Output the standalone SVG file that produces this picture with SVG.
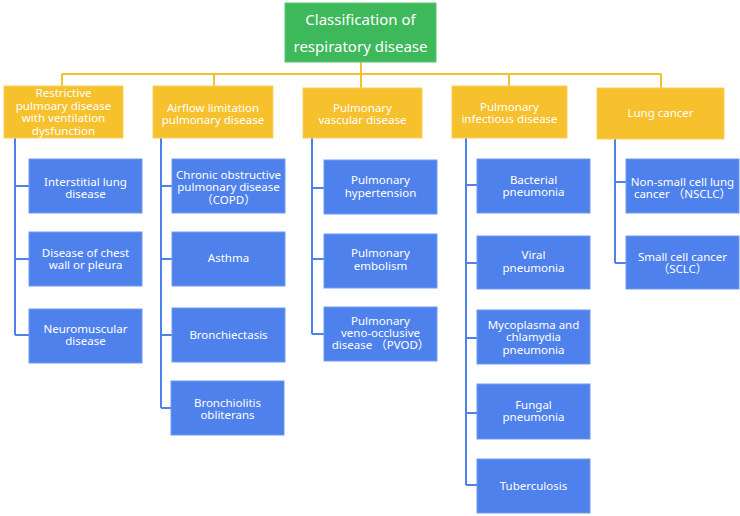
<svg xmlns="http://www.w3.org/2000/svg" width="740" height="516" viewBox="0 0 740 516">
<style>
.root{fill:#3DB85B;stroke:#5CC576;stroke-width:1}
.cat{fill:#F6C12D;stroke:#F8D060;stroke-width:1}
.leaf{fill:#4F81EC;stroke:#7099F0;stroke-width:1}
text{font-family:"Noto Sans","Noto Sans CJK SC",sans-serif;fill:#fff;text-anchor:middle;font-size:11.5px}
.rt{font-size:15px}
.yl{fill:none;stroke:#F5C02E;stroke-width:2}
.bl{fill:none;stroke:#4F81EC;stroke-width:2}
</style>
<rect width="740" height="516" fill="#fff"/>
<g id="connectors">
<path class="yl" d="M361 62V74M62 74H661M62 74V86M214 74V86M361 74V88M509 74V86M661 74V88"/>
<path class="bl" d="M15 138V335M15 186H29M15 259H29M15 335H29"/>
<path class="bl" d="M161 138V408M161 186H172M161 259H172M161 335H172M161 408H171"/>
<path class="bl" d="M312 138V334M312 188H324M312 259H324M312 334H324"/>
<path class="bl" d="M466 138V485M466 185H477M466 263H477M466 338H477M466 413H477M466 485H477"/>
<path class="bl" d="M615 139V263M615 182H626M615 263H626"/>
</g>
<g id="root"><rect class="root" x="285" y="3" width="151" height="59"/><text class="rt" x="360.5" y="25">Classification of</text><text class="rt" x="360.5" y="52">respiratory disease</text></g>
<g id="cat1"><rect class="cat" x="4" y="86" width="119" height="52"/><text x="63.5" y="97">Restrictive</text><text x="63.5" y="110">pulmoary disease</text><text x="63.5" y="122">with ventilation</text><text x="63.5" y="135">dysfunction</text></g>
<g id="cat2"><rect class="cat" x="153" y="86" width="120" height="52"/><text x="213" y="112">Airflow limitation</text><text x="213" y="124">pulmonary disease</text></g>
<g id="cat3"><rect class="cat" x="303" y="88" width="119" height="50"/><text x="362.5" y="112">Pulmonary</text><text x="362.5" y="124">vascular disease</text></g>
<g id="cat4"><rect class="cat" x="452" y="86" width="115" height="52"/><text x="509.5" y="111">Pulmonary</text><text x="509.5" y="123">infectious disease</text></g>
<g id="cat5"><rect class="cat" x="597" y="88" width="127" height="51"/><text x="660.5" y="117">Lung cancer</text></g>
<g id="l1a"><rect class="leaf" x="29" y="159" width="113" height="54"/><text x="85.5" y="186">Interstitial lung</text><text x="85.5" y="198">disease</text></g>
<g id="l1b"><rect class="leaf" x="29" y="232" width="113" height="54"/><text x="85.5" y="257">Disease of chest</text><text x="85.5" y="269">wall or pleura</text></g>
<g id="l1c"><rect class="leaf" x="29" y="309" width="113" height="54"/><text x="85.5" y="333">Neuromuscular</text><text x="85.5" y="345">disease</text></g>
<g id="l2a"><rect class="leaf" x="172" y="159" width="113" height="54"/><text x="228.5" y="179">Chronic obstructive</text><text x="228.5" y="191">pulmonary disease</text><text x="228.5" y="204">（COPD）</text></g>
<g id="l2b"><rect class="leaf" x="172" y="232" width="113" height="54"/><text x="228.5" y="262">Asthma</text></g>
<g id="l2c"><rect class="leaf" x="172" y="308" width="113" height="54"/><text x="228.5" y="339">Bronchiectasis</text></g>
<g id="l2d"><rect class="leaf" x="171" y="381" width="113" height="54"/><text x="227.5" y="407">Bronchiolitis</text><text x="227.5" y="419">obliterans</text></g>
<g id="l3a"><rect class="leaf" x="324" y="160" width="113" height="54"/><text x="380.5" y="184">Pulmonary</text><text x="380.5" y="197">hypertension</text></g>
<g id="l3b"><rect class="leaf" x="324" y="234" width="113" height="54"/><text x="380.5" y="257">Pulmonary</text><text x="380.5" y="270">embolism</text></g>
<g id="l3c"><rect class="leaf" x="324" y="307" width="113" height="54"/><text x="380.5" y="325">Pulmonary</text><text x="380.5" y="337">veno-occlusive</text><text x="380.5" y="349">disease （PVOD）</text></g>
<g id="l4a"><rect class="leaf" x="477" y="159" width="113" height="54"/><text x="533.5" y="184">Bacterial</text><text x="533.5" y="196">pneumonia</text></g>
<g id="l4b"><rect class="leaf" x="477" y="236" width="113" height="53"/><text x="533.5" y="259">Viral</text><text x="533.5" y="272">pneumonia</text></g>
<g id="l4c"><rect class="leaf" x="477" y="310" width="113" height="54"/><text x="533.5" y="329">Mycoplasma and</text><text x="533.5" y="341">chlamydia</text><text x="533.5" y="354">pneumonia</text></g>
<g id="l4d"><rect class="leaf" x="477" y="384" width="113" height="55"/><text x="533.5" y="409">Fungal</text><text x="533.5" y="421">pneumonia</text></g>
<g id="l4e"><rect class="leaf" x="477" y="459" width="113" height="54"/><text x="533.5" y="490">Tuberculosis</text></g>
<g id="l5a"><rect class="leaf" x="626" y="159" width="113" height="54"/><text x="682.5" y="186">Non-small cell lung</text><text x="682.5" y="198">cancer （NSCLC）</text></g>
<g id="l5b"><rect class="leaf" x="626" y="236" width="113" height="53"/><text x="682.5" y="261">Small cell cancer</text><text x="682.5" y="273">（SCLC）</text></g>
</svg>
